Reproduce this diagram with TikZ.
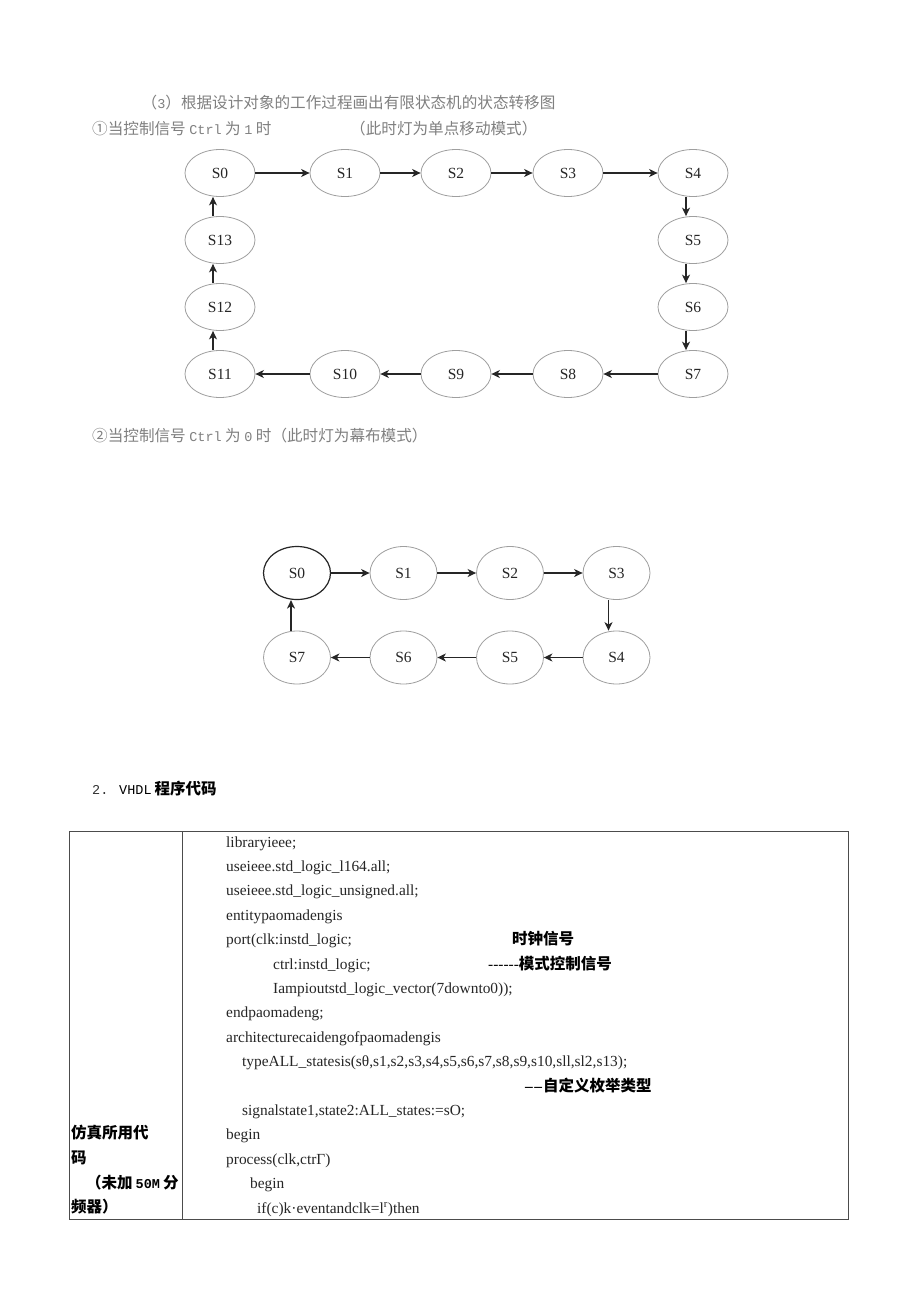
\documentclass[tikz,border=0pt]{standalone}
\usepackage{fontspec}
\setmainfont{Liberation Serif}
\newfontfamily\cjk{Noto Sans CJK SC}
\newfontfamily\hw{Liberation Mono}
\usetikzlibrary{shapes.geometric,arrows.meta}
\newcommand\hwt[1]{{\hw\fontsize{13.5}{15}\selectfont #1}}
\newcommand\hsp{\hspace{3.5pt}}
\tikzset{
 st/.style={ellipse, draw=gray!75, line width=0.8pt, minimum width=70pt, minimum height=47pt, inner sep=0pt, font=\fontsize{15.5}{18}\selectfont, text=black!85},
 stb/.style={st, minimum width=67pt, minimum height=53pt},
 arr/.style={-{Stealth[length=8.5pt,width=8pt,inset=2.5pt]}, line width=1.3pt, draw=black!85},
 note/.style={anchor=base west, inner sep=0pt, text=black!50, font=\cjk\fontsize{15.6}{18}\selectfont},
 code/.style={anchor=base west, inner sep=0pt, text=black!85, font=\fontsize{15.4}{18}\selectfont},
 cn/.style={anchor=base west, inner sep=0pt, text=black, font=\cjk\bfseries\fontsize{15.5}{18}\selectfont},
 tbl/.style={draw=black!70, line width=0.9pt},
}
\begin{document}
\begin{tikzpicture}[x=1pt,y=-1pt]
\useasboundingbox[fill=white] (0,0) rectangle (920,1301);

% headings
\node[note] (h1) at (141.5,108.5) {（\hwt{3}）根据设计对象的工作过程画出有限状态机的状态转移图};
\node[note] (h2) at (92,134.5) {①当控制信号\hsp\hwt{Ctrl}\hsp 为\hsp\hwt{1}\hsp 时};
\node[note] (h3) at (350,134.5) {（此时灯为单点移动模式）};
\node[note] (h4) at (92,441) {②当控制信号\hsp\hwt{Ctrl}\hsp 为\hsp\hwt{0}\hsp 时（此时灯为幕布模式）};

% diagram 1
\node[st] (a0) at (220,173) {S0};
\node[st] (a1) at (345,173) {S1};
\node[st] (a2) at (456,173) {S2};
\node[st] (a3) at (568,173) {S3};
\node[st] (a4) at (693,173) {S4};
\node[st] (a5) at (693,240) {S5};
\node[st] (a6) at (693,307) {S6};
\node[st] (a7) at (693,374) {S7};
\node[st] (a8) at (568,374) {S8};
\node[st] (a9) at (456,374) {S9};
\node[st] (a10) at (345,374) {S10};
\node[st] (a11) at (220,374) {S11};
\node[st] (a12) at (220,307) {S12};
\node[st] (a13) at (220,240) {S13};
\draw[arr] (a0) -- (a1);
\draw[arr] (a1) -- (a2);
\draw[arr] (a2) -- (a3);
\draw[arr] (a3) -- (a4);
\draw[arr] ([xshift=-7pt]a4.south) -- ([xshift=-7pt]a5.north);
\draw[arr] ([xshift=-7pt]a5.south) -- ([xshift=-7pt]a6.north);
\draw[arr] ([xshift=-7pt]a6.south) -- ([xshift=-7pt]a7.north);
\draw[arr] (a7) -- (a8);
\draw[arr] (a8) -- (a9);
\draw[arr] (a9) -- (a10);
\draw[arr] (a10) -- (a11);
\draw[arr] ([xshift=-7pt]a11.north) -- ([xshift=-7pt]a12.south);
\draw[arr] ([xshift=-7pt]a12.north) -- ([xshift=-7pt]a13.south);
\draw[arr] ([xshift=-7pt]a13.north) -- ([xshift=-7pt]a0.south);

% diagram 2
\node[stb, draw=black!85, line width=1.2pt] (b0) at (297,573) {S0};
\node[stb] (b1) at (403.5,573) {S1};
\node[stb] (b2) at (510,573) {S2};
\node[stb] (b3) at (616.5,573) {S3};
\node[stb] (b4) at (616.5,657.5) {S4};
\node[stb] (b5) at (510,657.5) {S5};
\node[stb] (b6) at (403.5,657.5) {S6};
\node[stb] (b7) at (297,657.5) {S7};
\draw[arr] (b0) -- (b1);
\draw[arr] (b1) -- (b2);
\draw[arr] (b2) -- (b3);
\draw[arr] ([xshift=-8pt]b3.south) -- ([xshift=-8pt]b4.north);
\draw[arr] (b4) -- (b5);
\draw[arr] (b5) -- (b6);
\draw[arr] (b6) -- (b7);
\draw[arr] ([xshift=-6pt]b7.north) -- ([xshift=-6pt]b0.south);

% section heading
\node[anchor=base west, inner sep=0pt, text=black!80] (s2n) at (92,794) {\hwt{2.}};
\node[anchor=base west, inner sep=0pt, text=black] (s2t) at (119,794) {\hwt{VHDL}\hspace{3pt}{\cjk\bfseries\fontsize{15.5}{18}\selectfont 程序代码}};

% table
\draw[tbl] (69,831) rectangle (848,1219);
\draw[tbl] (182,831) -- (182,1219);

\node[code] (c1) at (226,847) {libraryieee;};
\node[code] (c2) at (226,871.4) {useieee.std\_logic\_l164.all;};
\node[code] (c3) at (226,895.8) {useieee.std\_logic\_unsigned.all;};
\node[code] (c4) at (226,920.2) {entitypaomadengis};
\node[code] (c5) at (226,944.6) {port(clk:instd\_logic;};
\node[cn] (k5) at (512,944) {时钟信号};
\node[code] (c6) at (273,969) {ctrl:instd\_logic;};
\node[anchor=base west, inner sep=0pt] (k6) at (488,969) {{\fontsize{15.4}{18}\selectfont{-}{-}{-}{-}{-}{-}}{\cjk\bfseries\fontsize{15.5}{18}\selectfont 模式控制信号}};
\node[code] (c7) at (273,993.4) {Iampioutstd\_logic\_vector(7downto0));};
\node[code] (c8) at (226,1017.8) {endpaomadeng;};
\node[code] (c9) at (226,1042.2) {architecturecaidengofpaomadengis};
\node[code] (c10) at (242,1066.6) {typeALL\_statesis(sθ,s1,s2,s3,s4,s5,s6,s7,s8,s9,s10,sll,sl2,s13);};
\node[anchor=base west, inner sep=0pt] (k11) at (525,1091) {{\fontsize{15.4}{18}\selectfont\bfseries\textendash\kern1.5pt\textendash\kern1pt}{\cjk\bfseries\fontsize{15.5}{18}\selectfont 自定义枚举类型}};
\node[code] (c12) at (242,1115.4) {signalstate1,state2:ALL\_states:=sO;};
\node[code] (c13) at (226,1139.8) {begin};
\node[code] (c14) at (226,1164.2) {process(clk,ctrΓ)};
\node[code] (c15) at (250,1188.6) {begin};
\node[code] (c16) at (257,1213) {if(c)k·eventandclk=l\textsuperscript{r})then};

\node[cn] (l1) at (71,1138.5) {仿真所用代};
\node[cn] (l2) at (71,1163.5) {码};
\node[cn] (l3) at (86,1188.5) {（未加\hspace{3pt}\hwt{50M}\hspace{3pt}分};
\node[cn] (l4) at (71,1212.5) {频器）};
\end{tikzpicture}
\end{document}
